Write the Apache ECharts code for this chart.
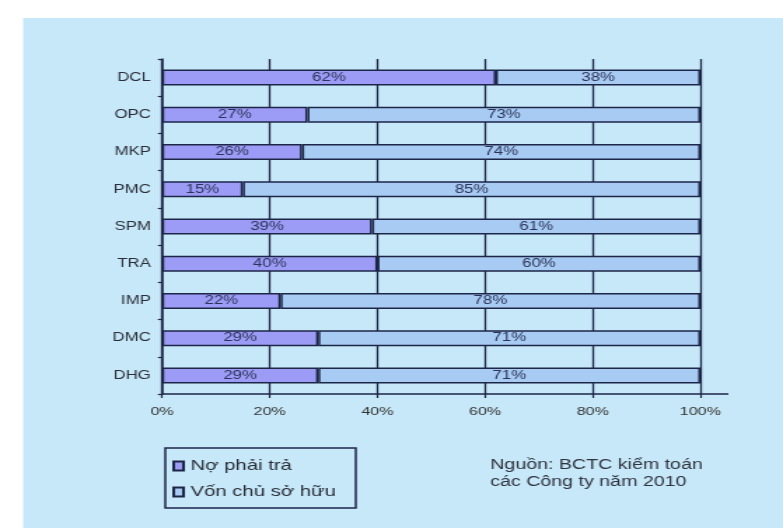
<!DOCTYPE html>
<html>
<head>
<meta charset="utf-8">
<script src="https://cdn.jsdelivr.net/npm/echarts@6/dist/echarts.min.js"></script>
<style>
html,body{margin:0;padding:0;background:#fff;}
#wrap{position:absolute;left:0;top:0;width:783px;height:528px;overflow:hidden;background:#fff;}
#c{width:559px;height:528px;transform:scaleX(1.40072);transform-origin:0 0;}
</style>
</head>
<body>
<div id="wrap"><div id="c"></div></div>
<script>
const categories = ['DCL', 'OPC', 'MKP', 'PMC', 'SPM', 'TRA', 'IMP', 'DMC', 'DHG'];
const debtShare = [62, 27, 26, 15, 39, 40, 22, 29, 29];
const equityShare = [38, 73, 74, 85, 61, 60, 78, 71, 71];
const seriesNames = ['Nợ phải trả', 'Vốn chủ sở hữu'];
const sourceLines = ['Nguồn: BCTC kiểm toán', 'các Công ty năm 2010'];

const FONT = '"Liberation Sans", Arial, sans-serif';
const INK = '#1e2648';
const chart = echarts.init(document.getElementById('c'), null, {renderer: 'canvas'});

const barStyle = (fill) => ({color: fill, borderColor: INK, borderWidth: 1.5});
const barLabel = {
  show: true, position: 'inside', formatter: '{c}%',
  color: '#2c3358', fontSize: 12, fontFamily: FONT
};

chart.setOption({
  backgroundColor: 'transparent',
  animation: false,
  graphic: [
    {type: 'rect', z: -10, shape: {x: 16.5, y: 18, width: 560, height: 520}, style: {fill: '#c7e8f8'}},
    {type: 'line', z: 5, shape: {x1: 500, y1: 394, x2: 520, y2: 394}, style: {stroke: INK, lineWidth: 1.5}},
    {type: 'text', z: 10, left: 350, top: 457,
     style: {text: sourceLines.join('\n'), font: '14px "Liberation Sans", Arial, sans-serif',
             lineHeight: 17, fill: '#2f3340'}}
  ],
  grid: {left: 115.7, right: 59, top: 59, bottom: 134, containLabel: false},
  legend: {
    orient: 'vertical', left: 118, top: 448,
    padding: [9, 6, 7, 5], itemGap: 8,
    itemWidth: 7, itemHeight: 9, icon: 'rect',
    borderColor: INK, borderWidth: 1.5, backgroundColor: 'transparent',
    textStyle: {fontSize: 14.5, fontFamily: FONT, color: '#2a2e3a', lineHeight: 18, width: 112},
    data: seriesNames
  },
  xAxis: {
    type: 'value', min: 0, max: 100, interval: 20,
    axisLine: {show: true, lineStyle: {color: INK, width: 1.5}},
    axisTick: {show: true, length: 4, lineStyle: {color: INK, width: 1.2}},
    splitLine: {show: true, lineStyle: {color: INK, width: 1.3}},
    axisLabel: {formatter: '{value}%', color: '#333', fontSize: 11.5, fontFamily: FONT, margin: 12}
  },
  yAxis: {
    type: 'category', inverse: true, data: categories,
    axisLine: {show: true, lineStyle: {color: INK, width: 1.5}},
    axisTick: {show: true, length: 3, alignWithLabel: false, lineStyle: {color: INK, width: 1.2}},
    axisLabel: {color: '#2a2e3a', fontSize: 12, fontFamily: FONT, margin: 8}
  },
  series: [
    {name: seriesNames[0], type: 'bar', stack: 'total', barWidth: 16,
     data: debtShare, itemStyle: barStyle('#9c9cf6'), label: barLabel},
    {name: seriesNames[1], type: 'bar', stack: 'total', barWidth: 16,
     data: equityShare, itemStyle: barStyle('#a7cbf3'), label: barLabel}
  ]
});
</script>
</body>
</html>
